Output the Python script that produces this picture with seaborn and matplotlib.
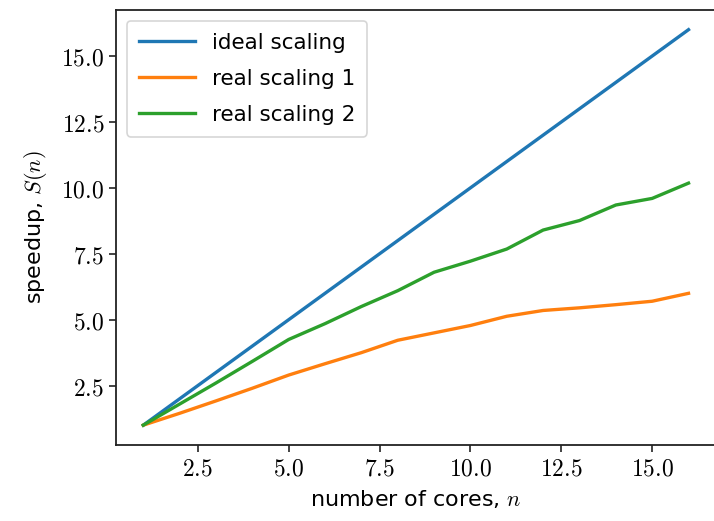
import numpy as np
import pandas as pd
import matplotlib
matplotlib.use("Agg")
import matplotlib.pyplot as plt
import seaborn as sns

cores = list(range(1, 17))
ideal = [float(n) for n in cores]
real1 = [1, 1.45, 1.92, 2.4, 2.9, 3.33, 3.75, 4.22, 4.5, 4.78, 5.13, 5.35, 5.45, 5.57, 5.7, 6.0]
real2 = [1, 1.8, 2.6, 3.42, 4.25, 4.85, 5.5, 6.1, 6.8, 7.22, 7.68, 8.4, 8.76, 9.35, 9.6, 10.18]
series_names = ["ideal scaling", "real scaling 1", "real scaling 2"]
x_ticks = [2.5, 5.0, 7.5, 10.0, 12.5, 15.0]
y_ticks = [2.5, 5.0, 7.5, 10.0, 12.5, 15.0]

df = pd.concat([
    pd.DataFrame({"n": cores, "S": ideal, "series": series_names[0]}),
    pd.DataFrame({"n": cores, "S": real1, "series": series_names[1]}),
    pd.DataFrame({"n": cores, "S": real2, "series": series_names[2]}),
])

plt.rcParams["mathtext.fontset"] = "cm"
plt.rcParams["font.family"] = ["DejaVu Sans"]

fig = plt.figure(figsize=(7.14, 5.21), dpi=100)
ax = fig.add_axes([0.1625, 0.146, 0.840, 0.835])

palette = ["#1f77b4", "#ff7f0e", "#2ca02c"]
sns.lineplot(data=df, x="n", y="S", hue="series", palette=palette, linewidth=2.4, ax=ax)

ax.set_xticks(x_ticks)
ax.set_xticklabels([f"${t:.1f}$" for t in x_ticks], fontsize=17)
ax.set_yticks(y_ticks)
ax.set_yticklabels([f"${t:.1f}$" for t in y_ticks], fontsize=17)
ax.tick_params(length=5, width=1.2, color="#222222")
for s in ax.spines.values():
    s.set_linewidth(1.3)
    s.set_color("#222222")

ax.set_xlabel("number of cores, $n$", fontsize=16, labelpad=5)
ax.set_ylabel("speedup, $S(n)$", fontsize=16, labelpad=9)

leg = ax.legend(title=None, loc="upper left", fontsize=15.5, handlelength=2.6,
                borderpad=0.55, labelspacing=0.75, handletextpad=0.8)
leg.get_frame().set_edgecolor("#cccccc")
leg.get_frame().set_linewidth(1.2)

fig.savefig("out.png", dpi=100)
